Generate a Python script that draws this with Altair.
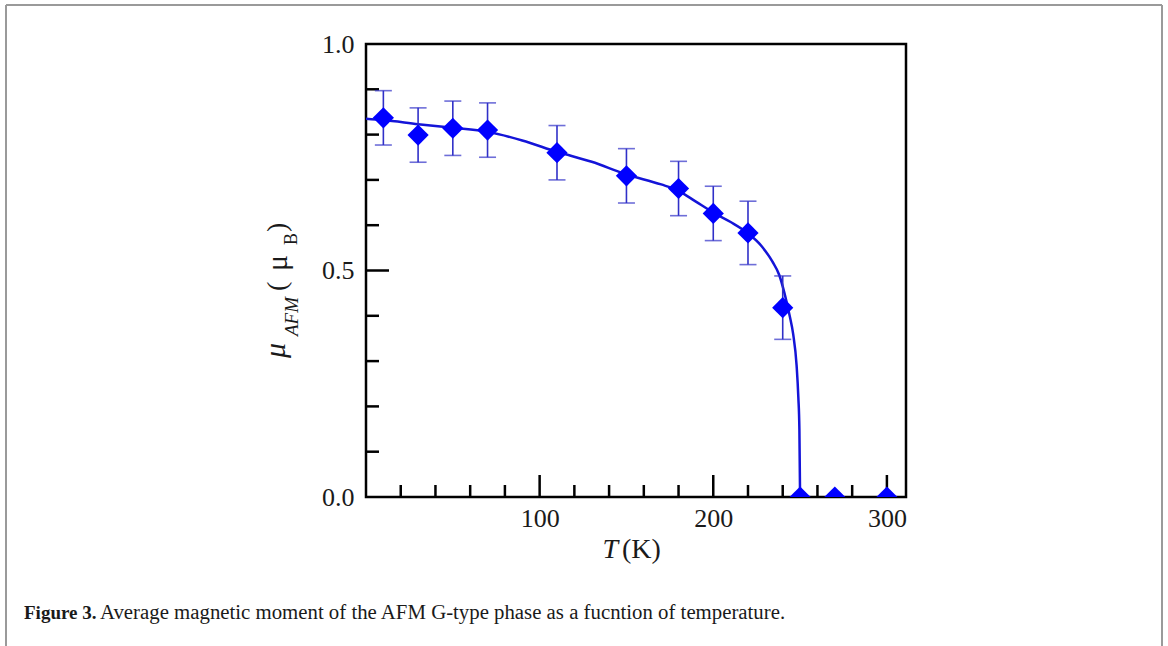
import altair as alt
import pandas as pd

# Measured magnetic moment vs temperature
temperature = [10, 30, 50, 70, 110, 150, 180, 200, 220, 240, 250, 270, 300]
moment = [0.837, 0.799, 0.814, 0.810, 0.760, 0.709, 0.681, 0.626, 0.583, 0.418, 0.0, 0.0, 0.0]
moment_err = [0.060, 0.060, 0.060, 0.060, 0.060, 0.060, 0.060, 0.060, 0.070, 0.070, None, None, None]

# Fitted order-parameter curve
fit_t = [0, 10, 30, 50, 70, 90, 110, 130, 150, 170, 180, 190, 200, 210, 220,
         228, 234, 238, 241, 244, 246, 248, 249, 249.6, 250]
fit_m = [0.835, 0.832, 0.823, 0.815, 0.806, 0.787, 0.762, 0.740, 0.712, 0.690,
         0.676, 0.652, 0.628, 0.607, 0.582, 0.553, 0.520, 0.490, 0.450, 0.400,
         0.360, 0.290, 0.220, 0.150, 0.0]

# Axis ticks
x_label_ticks = [100, 200, 300]
x_minor_ticks = [20, 40, 60, 80, 120, 140, 160, 180, 220, 240, 260, 280]
y_label_ticks = [0.0, 0.5, 1.0]
y_major_ticks = [0.5]
y_minor_ticks = [0.1, 0.2, 0.3, 0.4, 0.6, 0.7, 0.8, 0.9]

caption_bold = "Figure 3."
caption_text = "Average magnetic moment of the AFM G-type phase as a fucntion of temperature."

W, H = 540, 453
PAD_L, PAD_T = 366, 44
SERIF = "Liberation Serif"
BLUE = "#0000ff"
ERR = "#3030c8"
INK = "#1a1a1a"

xs = alt.Scale(domain=[0, 311], nice=False, zero=False)
ys = alt.Scale(domain=[0, 1], nice=False, zero=False)

x_axis = alt.Axis(
    values=x_label_ticks, ticks=False, domain=False, grid=False, title=None,
    labelFont=SERIF, labelFontSize=26, labelColor=INK, labelPadding=8,
    labelFlush=False)
y_axis = alt.Axis(
    values=y_label_ticks, format=".1f", ticks=False, domain=False, grid=False,
    title=None, labelFont=SERIF, labelFontSize=26, labelColor=INK,
    labelPadding=12, labelFlush=False)

pts = pd.DataFrame({"T": temperature, "M": moment, "err": moment_err})
bars = pts.dropna().copy()
bars["lo"] = bars["M"] - bars["err"]
bars["hi"] = bars["M"] + bars["err"]
fit = pd.DataFrame({"T": fit_t, "M": fit_m})

one = alt.Data(values=[{}])


def X(field):
    return alt.X(field, scale=xs, axis=x_axis)


def Y(field):
    return alt.Y(field, scale=ys, axis=y_axis)


points = alt.Chart(pts).mark_point(
    shape="diamond", filled=True, size=450, color=BLUE, opacity=1, clip=True
).encode(x=X("T:Q"), y=Y("M:Q"))

curve = alt.Chart(fit).mark_line(
    color="#1414d8", strokeWidth=2.5, interpolate="monotone", clip=True
).encode(x=X("T:Q"), y=Y("M:Q"))

err_rule = alt.Chart(bars).mark_rule(color=ERR, strokeWidth=1.6).encode(
    x=X("T:Q"), y=Y("lo:Q"), y2="hi:Q")
cap_lo = alt.Chart(bars).mark_tick(color=ERR, orient="horizontal", size=17, thickness=1.6).encode(
    x=X("T:Q"), y=Y("lo:Q"))
cap_hi = alt.Chart(bars).mark_tick(color=ERR, orient="horizontal", size=17, thickness=1.6).encode(
    x=X("T:Q"), y=Y("hi:Q"))


def xticks(vals, length):
    return alt.Chart(pd.DataFrame({"t": vals})).mark_rule(color="black", strokeWidth=2.5).encode(
        x=X("t:Q"), y=alt.value(H), y2=alt.value(H - length))


def yticks(vals, length):
    return alt.Chart(pd.DataFrame({"v": vals})).mark_rule(color="black", strokeWidth=2.5).encode(
        y=Y("v:Q"), x=alt.value(0), x2=alt.value(length))


def label(text, x, y, size, style="normal", weight="normal", angle=0, align="left"):
    return alt.Chart(one).mark_text(
        text=text, font=SERIF, fontSize=size, fontStyle=style, fontWeight=weight,
        color=INK, angle=angle, align=align, baseline="alphabetic"
    ).encode(x=alt.value(x - PAD_L), y=alt.value(y - PAD_T))


# x-axis title: italic T followed by (K)
x_title = [
    label("T", 618, 558, 28, style="italic", align="right"),
    label("(K)", 622, 558, 28),
]

# y-axis title: mu_AFM (mu_B), read bottom to top
y_title = [
    label("μ", 285, 358, 30, style="italic", angle=270),
    label("AFM", 298, 336, 19, style="italic", angle=270),
    label("(", 286, 291, 28, angle=270),
    label("μ", 287, 271, 30, angle=270),
    label("B", 297, 245, 18, angle=270),
    label(")", 286, 232, 28, angle=270),
]

caption = [
    label(caption_bold, 24, 619, 19, weight="bold"),
    label(caption_text, 100, 619, 20.8),
]

# page border (top, left, right)
GRAY = "#9a9a9a"
border = [
    alt.Chart(one).mark_rule(color=GRAY, strokeWidth=2).encode(
        x=alt.value(6 - PAD_L), x2=alt.value(1162 - PAD_L), y=alt.value(5 - PAD_T)),
    alt.Chart(one).mark_rule(color=GRAY, strokeWidth=2).encode(
        x=alt.value(6 - PAD_L), y=alt.value(5 - PAD_T), y2=alt.value(646 - PAD_T)),
    alt.Chart(one).mark_rule(color=GRAY, strokeWidth=2).encode(
        x=alt.value(1162 - PAD_L), y=alt.value(5 - PAD_T), y2=alt.value(646 - PAD_T)),
]

chart = alt.layer(
    *border,
    xticks(x_minor_ticks, 12), xticks(x_label_ticks, 22),
    yticks(y_minor_ticks, 13), yticks(y_major_ticks, 23),
    curve, err_rule, cap_lo, cap_hi, points,
    *x_title, *y_title, *caption,
).properties(
    width=W, height=H,
    autosize=alt.AutoSizeParams(type="none"),
    padding={"left": PAD_L, "top": PAD_T, "right": 1168 - PAD_L - W, "bottom": 646 - PAD_T - H},
    background="white",
).configure_view(
    stroke="black", strokeWidth=2.5
)

chart.save("out.html", embed_options={"renderer": "svg", "actions": False})
